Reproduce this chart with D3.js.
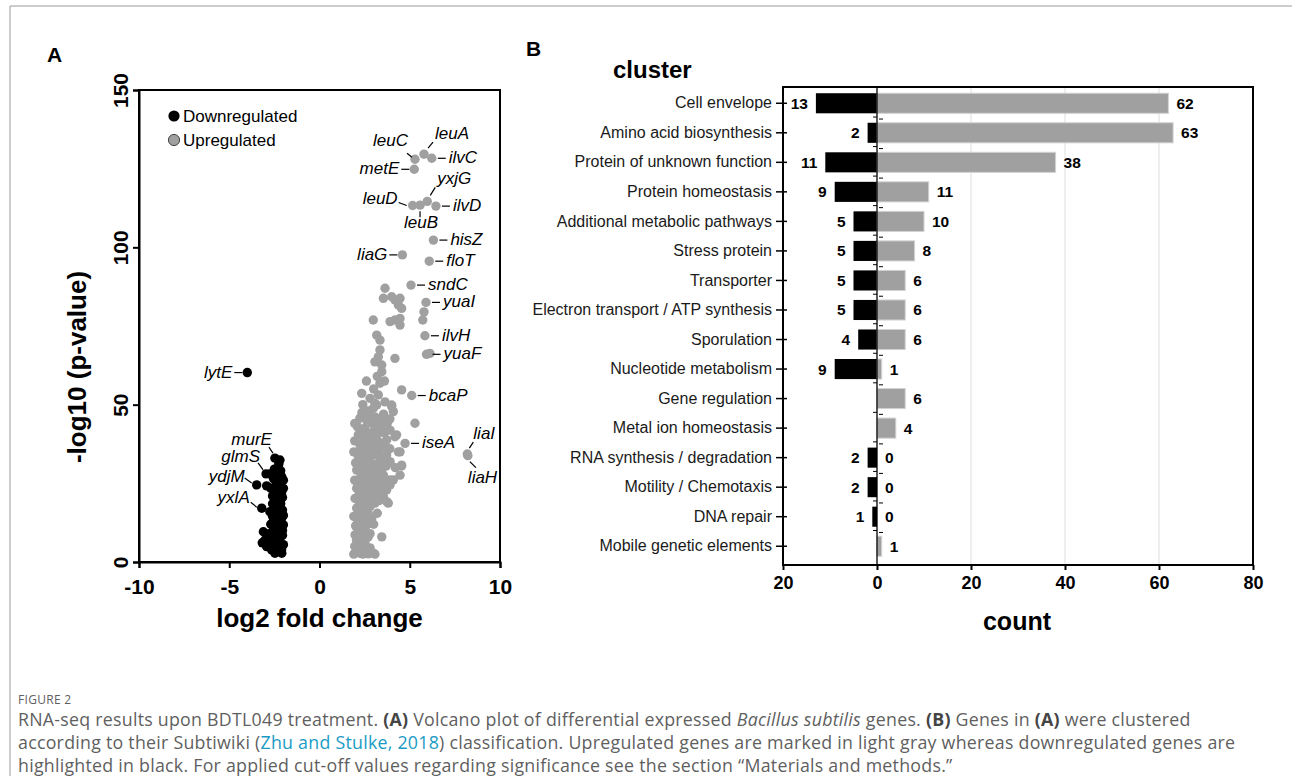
<!DOCTYPE html>
<html>
<head>
<meta charset="utf-8">
<script src="https://cdn.jsdelivr.net/npm/d3@7"></script>
<style>
  body { margin: 0; background: #fff; }
  svg { display: block; font-family: "Liberation Sans", Arial, sans-serif; }
</style>
</head>
<body>
<svg id="fig" width="1292" height="776"></svg>
<script>
var lfcTicks = [-10, -5, 0, 5, 10];
var pTicks = [0, 50, 100, 150];
var countTicks = [-20, 0, 20, 40, 60, 80];
var gridTicks = [20, 40, 60];

var categories = [
    'Cell envelope', 'Amino acid biosynthesis', 'Protein of unknown function',
    'Protein homeostasis', 'Additional metabolic pathways', 'Stress protein',
    'Transporter', 'Electron transport / ATP synthesis', 'Sporulation',
    'Nucleotide metabolism', 'Gene regulation', 'Metal ion homeostasis',
    'RNA synthesis / degradation', 'Motility / Chemotaxis', 'DNA repair',
    'Mobile genetic elements'
];
var downCounts = [13, 2, 11, 9, 5, 5, 5, 5, 4, 9, 0, 0, 2, 2, 1, 0];
var upCounts = [62, 63, 38, 11, 10, 8, 6, 6, 6, 1, 6, 4, 0, 0, 0, 1];

// [log2 fold change, -log10 p]
var upGenes = [
    [3.63, 87.0], [3.54, 83.8], [4.00, 84.3], [4.18, 83.3], [4.46, 83.8], [4.55, 80.6], [4.37, 81.7],
    [2.98, 76.9], [3.91, 76.4], [4.18, 76.9], [4.46, 77.4], [4.46, 75.3],
    [3.17, 72.1], [3.35, 70.5], [3.35, 67.4], [3.26, 65.2], [3.07, 63.6], [3.45, 62.6], [3.45, 60.5], [4.18, 64.7],
    [3.35, 56.8], [3.0, 55.0], [2.6, 57.5], [3.6, 57.5], [3.2, 59.0],
    [2.34, 53.6], [2.80, 52.0], [3.26, 53.1], [3.07, 50.4], [3.63, 50.9], [4.00, 49.9], [4.55, 54.7],
    [5.79, 79.5], [5.72, 76.9], [6.12, 66.3],
    [2.24, 45.7], [2.61, 45.1], [2.98, 48.8], [3.17, 49.9], [4.00, 49.4], [4.09, 47.8], [5.29, 44.1],
    [3.45, 45.1], [3.07, 41.9], [3.45, 41.9], [3.91, 41.9], [4.27, 40.4],
    [2.15, 40.4], [2.52, 39.3], [2.89, 39.8], [2.24, 37.2], [2.61, 36.6], [3.26, 38.2], [3.72, 38.8], [4.18, 39.8],
    [4.37, 35.0], [4.46, 35.0], [4.55, 30.5],
    [2.15, 33.5], [2.61, 33.0], [2.98, 34.0], [3.35, 32.4], [3.72, 34.0], [3.91, 31.9], [4.55, 30.8],
    [2.06, 29.2], [2.52, 28.7], [2.89, 29.8], [3.26, 28.7], [2.24, 26.6], [2.70, 26.1], [3.17, 27.1], [3.54, 27.6],
    [4.46, 27.6], [4.09, 26.1], [3.91, 24.5], [3.72, 22.9], [3.91, 26.1],
    [2.06, 23.4], [2.43, 23.9], [2.80, 24.5], [3.17, 25.0], [3.35, 22.9], [2.98, 21.8], [3.54, 20.8], [3.72, 19.2], [3.81, 18.7],
    [1.97, 20.2], [2.34, 19.2], [2.70, 20.2], [2.06, 17.1], [2.43, 16.0], [2.80, 17.6], [3.07, 18.7],
    [2.06, 13.9], [2.52, 13.3], [2.15, 10.7], [2.61, 11.8], [2.24, 8.0], [1.97, 8.6], [2.52, 6.4],
    [2.15, 4.4], [2.61, 3.8], [2.98, 2.8], [2.24, 2.8], [3.45, 8.0], [3.07, 2.5],
    [2.0, 31.5], [2.4, 31.0], [2.8, 31.8], [2.3, 35.0], [2.7, 38.0], [3.0, 36.0], [2.1, 43.0], [2.5, 42.5],
    [2.9, 44.0], [3.3, 35.5], [2.2, 15.0], [2.6, 14.8], [2.9, 14.0], [2.0, 11.5], [2.4, 9.5], [2.8, 9.0],
    [2.1, 5.8], [2.4, 4.8], [3.0, 12.0], [3.2, 15.5], [2.95, 22.5], [2.6, 22.0], [3.1, 31.0], [3.5, 30.0],
    [3.6, 36.5], [3.3, 44.0], [3.9, 45.5], [2.7, 48.0], [2.4, 50.0],
    [1.95, 44.0], [1.95, 38.5], [1.9, 35.0], [1.95, 26.0], [1.9, 14.5], [1.95, 5.0], [1.9, 2.5],
    [2.35, 47.5], [2.75, 46.5], [3.1, 46.0], [3.55, 47.0], [3.75, 44.0],
    [2.4, 41.5], [2.75, 41.0], [3.2, 40.5], [3.6, 41.0],
    [2.4, 38.0], [2.9, 37.0], [3.4, 37.0], [3.9, 36.0],
    [2.45, 34.5], [2.8, 35.0], [3.15, 34.5], [3.55, 33.0],
    [2.3, 32.5], [2.7, 30.5], [3.0, 30.0], [3.3, 30.5], [3.7, 30.5], [4.2, 30.0],
    [2.35, 28.0], [2.75, 28.0], [3.05, 27.5], [3.4, 26.5], [3.7, 26.0],
    [2.1, 25.0], [2.5, 25.5], [2.9, 26.0], [3.25, 24.0], [3.5, 24.5],
    [2.2, 21.5], [2.5, 21.0], [2.8, 22.0], [3.1, 21.0], [3.3, 19.5],
    [2.2, 18.0], [2.6, 18.5], [2.95, 19.5], [2.3, 14.0], [2.7, 15.5], [2.8, 12.5],
    [2.35, 12.0], [2.1, 9.0], [2.5, 10.5], [2.7, 8.0], [2.35, 7.0], [2.05, 7.0],
    [2.4, 2.5], [2.7, 2.6], [2.55, 5.0], [2.8, 4.5]
];
var downGenes = [
    [-2.19, 32.4], [-2.28, 30.3], [-2.50, 29.5], [-2.37, 28.2], [-2.09, 27.1], [-2.37, 25.0],
    [-2.00, 23.4], [-2.55, 23.0], [-2.30, 21.5], [-2.05, 20.5], [-2.45, 19.5], [-2.15, 18.5],
    [-2.50, 17.0], [-2.05, 16.5], [-2.35, 15.5], [-2.60, 14.5], [-2.10, 13.8], [-2.40, 12.5],
    [-2.00, 11.8], [-2.55, 11.0], [-2.25, 10.0], [-2.05, 8.5], [-2.45, 8.0], [-2.20, 7.0],
    [-2.00, 5.5], [-2.35, 5.0], [-2.09, 2.8], [-2.47, 2.8], [-2.65, 3.8], [-2.93, 4.9],
    [-3.17, 6.1], [-3.11, 9.6], [-3.02, 7.0], [-2.84, 5.4], [-2.93, 24.2],
    [-2.25, 31.2], [-2.15, 29.0], [-2.55, 26.5], [-2.20, 24.0], [-2.60, 21.0], [-2.10, 22.0],
    [-2.40, 17.8], [-2.20, 15.0], [-2.55, 13.0], [-2.25, 12.0], [-2.45, 9.5], [-2.10, 4.0],
    [-2.30, 3.5], [-2.60, 18.5], [-2.00, 26.0],
    [-2.75, 28.0], [-2.7, 23.5], [-2.75, 16.0], [-2.7, 12.0], [-2.8, 9.0], [-2.7, 6.5],
    [-2.3, 26.5], [-2.15, 20.0], [-2.4, 6.0], [-2.0, 14.8], [-2.05, 10.0]
];

// labelled genes: [name, log2 fold change, -log10 p]
var namedUp = [
    ['leuC', 5.29, 128.0], ['leuA', 5.79, 129.6], ['ilvC', 6.22, 128.3], ['metE', 5.25, 124.8],
    ['leuD', 5.16, 113.3], ['leuB', 5.57, 113.4], ['yxjG', 5.97, 114.6], ['ilvD', 6.45, 113.1],
    ['hisZ', 6.31, 102.3], ['liaG', 4.59, 97.6], ['floT', 6.08, 95.6], ['sndC', 5.07, 88.0],
    ['yuaI', 5.90, 82.5], ['ilvH', 5.84, 71.9], ['yuaF', 5.93, 66.0], ['bcaP', 5.11, 52.9],
    ['iseA', 4.74, 37.7], ['liaI', 8.19, 34.3], ['liaH', 8.22, 33.8]
];
var namedDown = [
    ['lytE', -4.0, 60.2], ['murE', -2.47, 33.0], ['glmS', -2.96, 28.0],
    ['ydjM', -3.48, 24.5], ['yxlA', -3.20, 17.1]
];

var RIGHT = { tx: 17, ty: 5, anchor: 'start', line: [6, 0, 14, 0] };
var LEFT = { tx: -15, ty: 5, anchor: 'end', line: [-5, 0, -13, 0] };
var labelPos = {
    leuC: { tx: -7, ty: -13, anchor: 'end', line: [-8, -6, -3, -2] },
    leuA: { tx: 11, ty: -15, anchor: 'start', line: [9, -12, 4, -6] },
    ilvC: RIGHT, metE: LEFT,
    yxjG: { tx: 10, ty: -17, anchor: 'start', line: [8, -14, 3, -6] },
    leuD: { tx: -15, ty: -1, anchor: 'end', line: [-14, -3, -6, 0] },
    leuB: { tx: 1, ty: 23, anchor: 'middle', line: [0, 6, 0, 12] },
    ilvD: RIGHT, hisZ: RIGHT, liaG: LEFT, floT: RIGHT, sndC: RIGHT, yuaI: RIGHT,
    ilvH: RIGHT, yuaF: RIGHT, bcaP: RIGHT, iseA: RIGHT,
    liaI: { tx: 6, ty: -15, anchor: 'start', line: [6, -12, 2, -6] },
    liaH: { tx: 0, ty: 27, anchor: 'start', line: [2, 6, 8, 12] },
    lytE: LEFT,
    murE: { tx: -3, ty: -13, anchor: 'end', line: [-6, -11, -2, -5] },
    glmS: { tx: -6, ty: -12, anchor: 'end', line: [-8, -11, -3, -4] },
    ydjM: { tx: -12, ty: -3, anchor: 'end', line: [-12, -7, -5, -2] },
    yxlA: { tx: -12, ty: -5, anchor: 'end', line: [-11, -6, -5, -1] }
};

var GRAY = '#a0a0a0';
var svg = d3.select('#fig');

svg.append('path')
    .attr('d', 'M10,776V6H1292')
    .attr('fill', 'none')
    .attr('stroke', '#9a9a9a');

drawVolcano();
drawClusters();
drawCaption();

function drawVolcano() {
    var x = d3.scaleLinear().domain([-10, 10]).range([139, 500]),
        y = d3.scaleLinear().domain([0, 150]).range([562, 90]),
        r = 4.7,
        g = svg.append('g');

    svg.append('text')
        .attr('x', 47).attr('y', 62)
        .attr('font-size', 21).attr('font-weight', 'bold')
        .text('A');

    var xAxis = g.append('g')
        .attr('transform', 'translate(0,562)')
        .call(d3.axisBottom(x).tickValues(lfcTicks).tickSize(6).tickFormat(function(d) { return String(d); }));
    xAxis.selectAll('text')
        .attr('y', 32).attr('dy', 0);

    var yAxis = g.append('g')
        .attr('transform', 'translate(139,0)')
        .call(d3.axisLeft(y).tickValues(pTicks).tickSize(6));
    yAxis.selectAll('text')
        .attr('x', 0).attr('y', -11).attr('dy', 0)
        .attr('text-anchor', 'middle')
        .attr('transform', 'rotate(-90)');

    [xAxis, yAxis].forEach(function(a) {
        a.selectAll('path, line').attr('stroke', '#000').attr('stroke-width', 2);
        a.selectAll('text')
            .attr('fill', '#000')
            .attr('font-size', 21)
            .attr('font-weight', 'bold')
            .attr('font-family', '"Liberation Sans", Arial, sans-serif');
    });

    g.append('rect')
        .attr('x', x(-10)).attr('y', y(150))
        .attr('width', x(10) - x(-10)).attr('height', y(0) - y(150))
        .attr('fill', 'none').attr('stroke', '#000').attr('stroke-width', 2);

    g.append('text')
        .attr('x', (x(-10) + x(10)) / 2).attr('y', 627)
        .attr('text-anchor', 'middle')
        .attr('font-size', 26).attr('font-weight', 'bold')
        .text('log2 fold change');

    // the title sits lower than the axis middle in the original
    g.append('text')
        .attr('transform', 'translate(86,367) rotate(-90)')
        .attr('text-anchor', 'middle')
        .attr('font-size', 26).attr('font-weight', 'bold')
        .text('-log10 (p-value)');

    g.append('g').selectAll('circle')
        .data(upGenes.concat(namedUp.map(function(d) { return [d[1], d[2]]; })))
        .enter().append('circle')
        .attr('cx', function(d) { return x(d[0]); })
        .attr('cy', function(d) { return y(d[1]); })
        .attr('r', r)
        .attr('fill', GRAY);

    g.append('g').selectAll('circle')
        .data(downGenes.concat(namedDown.map(function(d) { return [d[1], d[2]]; })))
        .enter().append('circle')
        .attr('cx', function(d) { return x(d[0]); })
        .attr('cy', function(d) { return y(d[1]); })
        .attr('r', r)
        .attr('fill', '#000');

    var labels = g.append('g');
    namedUp.concat(namedDown).forEach(function(d) {
        var p = labelPos[d[0]], px = x(d[1]), py = y(d[2]);
        labels.append('line')
            .attr('x1', px + p.line[0]).attr('y1', py + p.line[1])
            .attr('x2', px + p.line[2]).attr('y2', py + p.line[3])
            .attr('stroke', '#000').attr('stroke-width', 1.2);
        labels.append('text')
            .attr('x', px + p.tx).attr('y', py + p.ty)
            .attr('text-anchor', p.anchor)
            .attr('font-size', 17).attr('font-style', 'italic')
            .text(d[0]);
    });

    // legend
    var legend = g.append('g');
    [['Downregulated', '#000', 'none'], ['Upregulated', GRAY, '#444']].forEach(function(d, i) {
        legend.append('circle')
            .attr('cx', 174).attr('cy', 116 + i * 24)
            .attr('r', 5.6)
            .attr('fill', d[1]).attr('stroke', d[2]);
        legend.append('text')
            .attr('x', 183).attr('y', 122 + i * 24)
            .attr('font-size', 17)
            .text(d[0]);
    });
}

function drawClusters() {
    var x = d3.scaleLinear().domain([-20, 80]).range([783, 1253]),
        y = d3.scaleBand().domain(categories).range([88.5, 561]).paddingInner(0.32).paddingOuter(0.16),
        top = 87, bottom = 565,
        g = svg.append('g'),
        rows = categories.map(function(c, i) { return { name: c, down: downCounts[i], up: upCounts[i] }; });

    svg.append('text')
        .attr('x', 526).attr('y', 56)
        .attr('font-size', 21).attr('font-weight', 'bold')
        .text('B');

    g.selectAll('.grid')
        .data(gridTicks)
        .enter().append('line')
        .attr('x1', function(d) { return x(d); }).attr('x2', function(d) { return x(d); })
        .attr('y1', top).attr('y2', bottom)
        .attr('stroke', '#dedede');

    g.selectAll('.down')
        .data(rows.filter(function(d) { return d.down > 0; }))
        .enter().append('rect')
        .attr('x', function(d) { return x(-d.down); })
        .attr('y', function(d) { return y(d.name); })
        .attr('width', function(d) { return x(0) - x(-d.down); })
        .attr('height', y.bandwidth())
        .attr('fill', '#000');

    g.selectAll('.up')
        .data(rows.filter(function(d) { return d.up > 0; }))
        .enter().append('rect')
        .attr('x', x(0))
        .attr('y', function(d) { return y(d.name); })
        .attr('width', function(d) { return x(d.up) - x(0); })
        .attr('height', y.bandwidth())
        .attr('fill', GRAY)
        .attr('stroke', '#d2d2d2');

    g.selectAll('.downLabel')
        .data(rows.filter(function(d) { return d.down > 0; }))
        .enter().append('text')
        .attr('x', function(d) { return x(-d.down) - 8; })
        .attr('y', function(d) { return y(d.name) + y.bandwidth() / 2 + 5.5; })
        .attr('text-anchor', 'end')
        .attr('font-size', 15.5).attr('font-weight', 'bold')
        .text(function(d) { return d.down; });

    g.selectAll('.upLabel')
        .data(rows)
        .enter().append('text')
        .attr('x', function(d) { return x(d.up) + 8; })
        .attr('y', function(d) { return y(d.name) + y.bandwidth() / 2 + 5.5; })
        .attr('font-size', 15.5).attr('font-weight', 'bold')
        .text(function(d) { return d.up; });

    // zero line with little marks between the rows
    g.append('line')
        .attr('x1', x(0)).attr('x2', x(0))
        .attr('y1', top).attr('y2', bottom)
        .attr('stroke', '#000').attr('stroke-width', 1.3);

    var gaps = categories.slice(1).map(function(c) { return y(c) - y.step() * y.paddingInner() / 2; });
    g.selectAll('.gapL')
        .data(gaps)
        .enter().append('line')
        .attr('x1', x(0) - 4).attr('x2', x(0))
        .attr('y1', function(d) { return d - 1; }).attr('y2', function(d) { return d - 1; })
        .attr('stroke', '#000');
    g.selectAll('.gapR')
        .data(gaps)
        .enter().append('line')
        .attr('x1', x(0) + 2).attr('x2', x(0) + 6)
        .attr('y1', function(d) { return d + 1; }).attr('y2', function(d) { return d + 1; })
        .attr('stroke', '#000');

    // frame
    g.append('rect')
        .attr('x', x(-20)).attr('y', top)
        .attr('width', x(80) - x(-20)).attr('height', bottom - top)
        .attr('fill', 'none').attr('stroke', '#000').attr('stroke-width', 2);

    var yAxis = g.append('g')
        .attr('transform', 'translate(' + x(-20) + ',0)')
        .call(d3.axisLeft(y).tickSize(7).tickPadding(4));
    yAxis.select('.domain').remove();
    yAxis.selectAll('line').attr('x2', -7).attr('x1', 4).attr('stroke-width', 1.5);
    yAxis.selectAll('text')
        .attr('fill', '#1a1a1a')
        .attr('font-size', 16)
        .attr('font-family', '"Liberation Sans", Arial, sans-serif');

    var xAxis = g.append('g')
        .attr('transform', 'translate(0,' + bottom + ')')
        .call(d3.axisBottom(x).tickValues(countTicks).tickSize(5).tickFormat(function(d) { return Math.abs(d); }));
    xAxis.select('.domain').remove();
    xAxis.selectAll('line').attr('stroke-width', 2);
    xAxis.selectAll('text')
        .attr('y', 24).attr('dy', 0)
        .attr('fill', '#000')
        .attr('font-size', 18).attr('font-weight', 'bold')
        .attr('font-family', '"Liberation Sans", Arial, sans-serif');

    g.append('text')
        .attr('x', 613).attr('y', 78)
        .attr('font-size', 24).attr('font-weight', 'bold')
        .text('cluster');

    g.append('text')
        .attr('x', 1017).attr('y', 630)
        .attr('text-anchor', 'middle')
        .attr('font-size', 25).attr('font-weight', 'bold')
        .text('count');
}

function drawCaption() {
    var cap = svg.append('g')
        .attr('font-family', '"Open Sans", Lato, sans-serif')
        .attr('fill', '#5f5f5f');

    cap.append('text')
        .attr('x', 18).attr('y', 704)
        .attr('font-size', 12).attr('letter-spacing', 0.3)
        .text('FIGURE 2');

    var lines = [
        [['RNA-seq results upon BDTL049 treatment. '], ['(A)', 'b'], [' Volcano plot of differential expressed '],
         ['Bacillus subtilis', 'i'], [' genes. '], ['(B)', 'b'], [' Genes in '], ['(A)', 'b'], [' were clustered']],
        [['according to their Subtiwiki ('], ['Zhu and Stulke, 2018', 'link'],
         [') classification. Upregulated genes are marked in light gray whereas downregulated genes are']],
        [['highlighted in black. For applied cut-off values regarding significance see the section \u201cMaterials and methods.\u201d']]
    ];

    lines.forEach(function(parts, i) {
        var t = cap.append('text')
            .attr('x', 18).attr('y', 726 + i * 23)
            .attr('font-size', 17.8)
            .attr('letter-spacing', 0.25);
        parts.forEach(function(p) {
            var s = t.append('tspan').text(p[0]);
            if (p[1] === 'b') s.attr('font-weight', 'bold').attr('fill', '#444');
            if (p[1] === 'i') s.attr('font-style', 'italic');
            if (p[1] === 'link') s.attr('fill', '#1a9bc4');
        });
    });
}
</script>
</body>
</html>
